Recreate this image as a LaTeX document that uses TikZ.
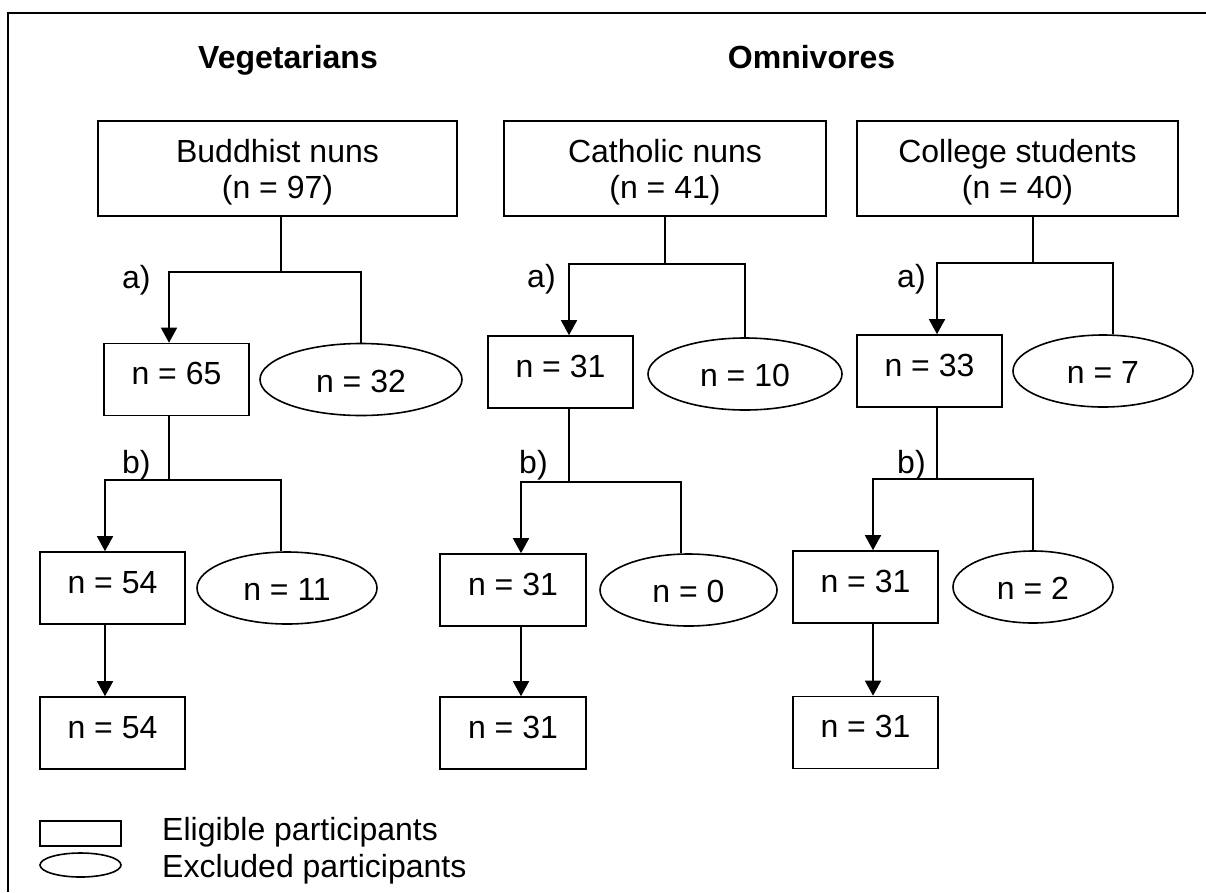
\documentclass[tikz,border=0pt]{standalone}
\usepackage{fontspec}
\setmainfont{Liberation Sans}
\usetikzlibrary{shapes.geometric,arrows.meta}
\begin{document}
\begin{tikzpicture}[x=1pt,y=-1pt,
  every node/.style={font=\fontsize{32}{36}\selectfont, inner sep=0pt},
  rbox/.style={draw, line width=1.6pt, minimum width=145pt, minimum height=72pt, text height=22pt, text depth=12pt},
  ebox/.style={draw, ellipse, line width=1.6pt, minimum height=72pt, text height=29pt, text depth=4pt},
  headbox/.style={draw, line width=1.6pt, minimum height=95pt, align=center, text height=59pt, text depth=0pt},
  conn/.style={line width=1.6pt},
  arr/.style={conn, -{Triangle[width=16pt,length=15pt]}},
  lbl/.style={anchor=base west},
  hdr/.style={anchor=base, font=\bfseries\fontsize{32}{36}\selectfont}
]
\useasboundingbox (0,0) rectangle (1206,892);
\draw[line width=2pt] (8,892) -- (8,13) -- (1206,13);

% headers
\node[hdr] (hV) at (288,68) {Vegetarians};
\node[hdr] (hO) at (811.5,68) {Omnivores};

% ---------- Column 1: Buddhist nuns ----------
\node[headbox, minimum width=359pt] (Bt) at (277.5,168.5) {Buddhist nuns\\(n = 97)};
\node[rbox] (B65) at (176.5,379.5) {n = 65};
\node[ebox, minimum width=202pt] (E32) at (361,379.5) {n = 32};
\node[rbox] (B54) at (112.5,588) {n = 54};
\node[ebox, minimum width=180pt] (E11) at (287,588) {n = 11};
\node[rbox] (B54b) at (112.5,733) {n = 54};
\node[lbl] (Ba) at (122,288) {a)};
\node[lbl] (Bb) at (122,473) {b)};
\coordinate (jBc) at (281,272);
\coordinate (jBL) at (169,272);
\coordinate (jBR) at (361,272);
\coordinate (jB2c) at (169,480);
\coordinate (jB2L) at (105,480);
\coordinate (jB2R) at (281,480);
\draw[conn] (jBc |- Bt.south) -- (jBc);
\draw[arr] (jBR |- E32.north) -- (jBR) -- (jBL) -- (jBL |- B65.north);
\draw[conn] (jB2c |- B65.south) -- (jB2c);
\draw[arr] (jB2R |- E11.north) -- (jB2R) -- (jB2L) -- (jB2L |- B54.north);
\draw[arr] (jB2L |- B54.south) -- (jB2L |- B54b.north);

% ---------- Column 2: Catholic nuns ----------
\node[headbox, minimum width=322pt] (Ct) at (665,168.5) {Catholic nuns\\(n = 41)};
\node[rbox] (C31) at (560.5,372) {n = 31};
\node[ebox, minimum width=194pt] (E10) at (745,374) {n = 10};
\node[rbox, minimum width=146pt] (C31b) at (513,590) {n = 31};
\node[ebox, minimum width=177pt] (E0) at (688.5,590) {n = 0};
\node[rbox, minimum width=146pt] (C31c) at (513,733) {n = 31};
\node[lbl] (Ca) at (527,287) {a)};
\node[lbl] (Cb) at (519,473) {b)};
\coordinate (jCc) at (665,264);
\coordinate (jCL) at (569,264);
\coordinate (jCR) at (745,264);
\coordinate (jC2c) at (569,482);
\coordinate (jC2L) at (521,482);
\coordinate (jC2R) at (681,482);
\draw[conn] (jCc |- Ct.south) -- (jCc);
\draw[arr] (jCR |- E10.north) -- (jCR) -- (jCL) -- (jCL |- C31.north);
\draw[conn] (jC2c |- C31.south) -- (jC2c);
\draw[arr] (jC2R |- E0.north) -- (jC2R) -- (jC2L) -- (jC2L |- C31b.north);
\draw[arr] (jC2L |- C31b.south) -- (jC2L |- C31c.north);

% ---------- Column 3: College students ----------
\node[headbox, minimum width=321pt] (Gt) at (1017.5,168.5) {College students\\(n = 40)};
\node[rbox] (G33) at (929.5,371) {n = 33};
\node[ebox, minimum width=180pt] (E7) at (1103,371) {n = 7};
\node[rbox] (G31) at (865.5,587) {n = 31};
\node[ebox, minimum width=160pt] (E2) at (1033,587) {n = 2};
\node[rbox] (G31b) at (865.5,732.5) {n = 31};
\node[lbl] (Ga) at (897,287) {a)};
\node[lbl] (Gb) at (897,473) {b)};
\coordinate (jGc) at (1033,263);
\coordinate (jGL) at (937,263);
\coordinate (jGR) at (1113,263);
\coordinate (jG2c) at (937,479);
\coordinate (jG2L) at (873,479);
\coordinate (jG2R) at (1033,479);
\draw[conn] (jGc |- Gt.south) -- (jGc);
\draw[arr] (jGR |- E7.north) -- (jGR) -- (jGL) -- (jGL |- G33.north);
\draw[conn] (jG2c |- G33.south) -- (jG2c);
\draw[arr] (jG2R |- E2.north) -- (jG2R) -- (jG2L) -- (jG2L |- G31.north);
\draw[arr] (jG2L |- G31.south) -- (jG2L |- G31b.north);

% ---------- Legend ----------
\node[draw, line width=1.6pt, minimum width=81pt, minimum height=25pt] (lr) at (80.5,833.5) {};
\node[draw, ellipse, line width=1.6pt, minimum width=81pt, minimum height=24pt] (le) at (80.5,865) {};
\node[lbl] (lt1) at (162,840) {Eligible participants};
\node[lbl] (lt2) at (162,877) {Excluded participants};
\end{tikzpicture}
\end{document}
